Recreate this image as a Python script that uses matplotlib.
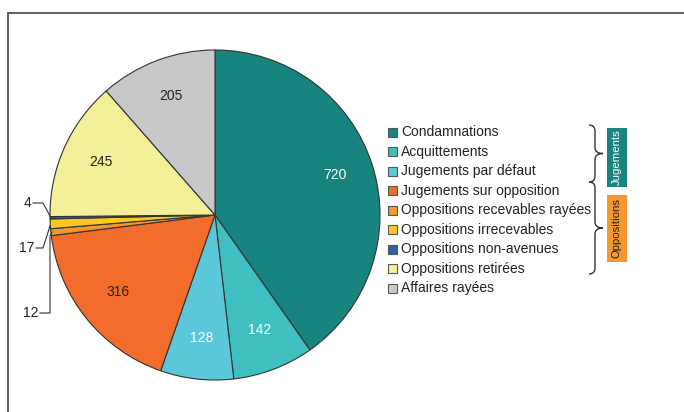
import matplotlib.pyplot as plt
import numpy as np
from matplotlib.patches import Rectangle, PathPatch
from matplotlib.path import Path

plt.rcParams['font.family'] = ['Liberation Sans', 'DejaVu Sans']

# Categories and values (clockwise from the top)
categories = ["Condamnations", "Acquittements", "Jugements par défaut",
              "Jugements sur opposition", "Oppositions recevables rayées",
              "Oppositions irrecevables", "Oppositions non-avenues",
              "Oppositions retirées", "Affaires rayées"]
values = [720, 142, 128, 316, 12, 17, 4, 245, 205]
colors = ["#17847f", "#40bfc1", "#5bc8da", "#f26c2c", "#f5962e",
          "#fcc623", "#2f5fa8", "#f4ef99", "#c8c8ca"]
label_colors = ["white", "white", "white", "#222222", None, None, None, "#222222", "#222222"]
groups = ["Jugements", "Oppositions"]
group_colors = ["#17847f", "#f5962e"]

H = 412  # figure height in px, for flipping y


def Y(y):
    return H - y


fig = plt.figure(figsize=(6.84, 4.12), dpi=100)
ax = fig.add_axes([0, 0, 1, 1])

cx, cy, R = 215, 215, 165
wedges, _ = ax.pie(values, colors=colors, startangle=90, counterclock=False,
                   center=(cx, Y(cy)), radius=R, frame=True,
                   wedgeprops=dict(edgecolor="#333333", linewidth=0.8))
ax.set_xlim(0, 684)
ax.set_ylim(0, H)
ax.axis("off")

# value labels inside the big slices
total = sum(values)
cum = 0
for v, lc in zip(values, label_colors):
    mid = 90 - (cum + v / 2) / total * 360
    cum += v
    if lc is None:
        continue
    r = 0.76 * R
    ax.text(cx + r * np.cos(np.radians(mid)), Y(cy) + r * np.sin(np.radians(mid)) + 2,
            str(v), ha="center", va="center", fontsize=10, color=lc)

# small slices: labels with leader lines
lc = "#333333"
ax.plot([33, 43, 51], [Y(203), Y(203), Y(218)], color=lc, lw=0.8)
ax.text(31, Y(203), "4", ha="right", va="center", fontsize=10, color="#222222")
ax.plot([36, 43, 50], [Y(248), Y(248), Y(226)], color=lc, lw=0.8)
ax.text(34, Y(248), "17", ha="right", va="center", fontsize=10, color="#222222")
ax.plot([40, 50, 50, 52], [Y(313), Y(313), Y(236), Y(232)], color=lc, lw=0.8)
ax.text(38, Y(313), "12", ha="right", va="center", fontsize=10, color="#222222")

# legend
row_y = 132
for name, col in zip(categories, colors):
    ax.add_patch(Rectangle((388, Y(row_y) - 4.5), 9, 9, facecolor=col,
                           edgecolor="#555555", lw=0.8))
    ax.text(401, Y(row_y), name, ha="left", va="center", fontsize=10, color="#222222")
    row_y += 19.5


# curly braces
def brace(x0, y0, y1, xs=6, xt=14):
    ym = (y0 + y1) / 2
    pts = [(x0, Y(y0)), (x0 + xs, Y(y0)), (x0 + xs, Y(y0 + 6)),
           (x0 + xs, Y(ym - 6)),
           (x0 + xs, Y(ym)), (x0 + xt, Y(ym)),
           (x0 + xs, Y(ym)), (x0 + xs, Y(ym + 6)),
           (x0 + xs, Y(y1 - 6)),
           (x0 + xs, Y(y1)), (x0, Y(y1))]
    codes = [Path.MOVETO, Path.CURVE3, Path.CURVE3, Path.LINETO,
             Path.CURVE3, Path.CURVE3, Path.CURVE3, Path.CURVE3,
             Path.LINETO, Path.CURVE3, Path.CURVE3]
    ax.add_patch(PathPatch(Path(pts, codes), facecolor="none",
                           edgecolor="#333333", lw=1.0))


brace(589, 125, 182)
brace(589, 182, 274)

# group tags
ax.add_patch(Rectangle((607, Y(187)), 20, 59, facecolor=group_colors[0], edgecolor="none"))
ax.text(617, Y(157.5), groups[0], rotation=90, ha="center", va="center",
        fontsize=8.2, color="white")
ax.add_patch(Rectangle((607, Y(262)), 20, 67, facecolor=group_colors[1], edgecolor="none"))
ax.text(617, Y(228.5), groups[1], rotation=90, ha="center", va="center",
        fontsize=8.2, color="#222222")

# outer frame (top and left)
ax.plot([7, 684], [Y(13), Y(13)], color="#555555", lw=1.3, solid_capstyle="butt")
ax.plot([7.5, 7.5], [Y(13), 0], color="#555555", lw=1.3, solid_capstyle="butt")

fig.savefig("out.png", dpi=100)
